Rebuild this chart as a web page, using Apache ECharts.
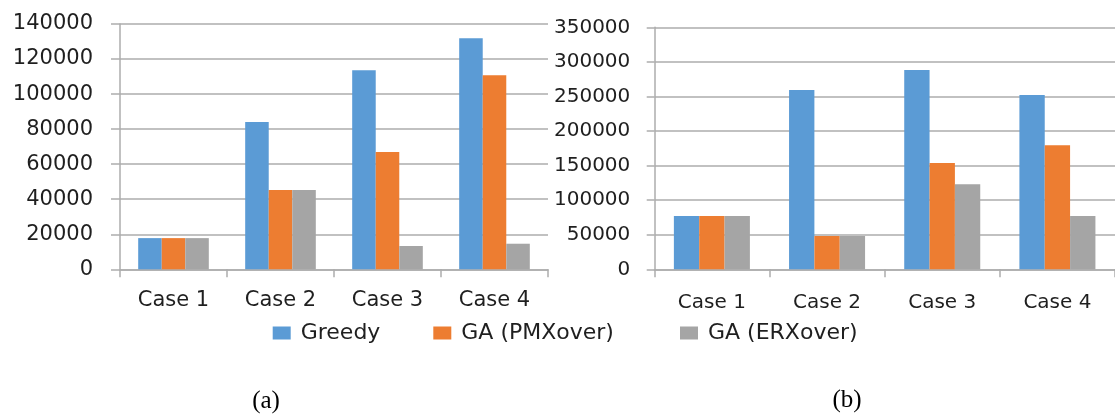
<!DOCTYPE html>
<html>
<head>
<meta charset="utf-8">
<script src="https://cdn.jsdelivr.net/npm/echarts@6/dist/echarts.min.js"></script>
<style>
  html, body { margin: 0; padding: 0; background: #fff; }
  #chart { width: 1115px; height: 414px; }
</style>
</head>
<body>
<div id="chart"></div>
<script>
const categories = ['Case 1', 'Case 2', 'Case 3', 'Case 4'];
const seriesNames = ['Greedy', 'GA (PMXover)', 'GA (ERXover)'];

// Panel (a)
const aGreedy = [17800, 84000, 113600, 131800];
const aPMX    = [17800, 45300, 67000, 110700];
const aERX    = [17800, 45300, 13300, 14600];
const aTicks  = { min: 0, max: 140000, interval: 20000 };

// Panel (b)
const bGreedy = [77000, 259300, 288200, 252100];
const bPMX    = [77000, 48200, 153700, 179300];
const bERX    = [77000, 48200, 122900, 77000];
const bTicks  = { min: 0, max: 350000, interval: 50000 };

const colors = ['#5B9BD5', '#ED7D31', '#A5A5A5'];
const gridGray = '#ADADAD';
const txt = '#1f1f1f';
const FONT = 'DejaVu Sans';

const chart = echarts.init(document.getElementById('chart'), null, { renderer: 'canvas' });

function xAxisCfg(gridIndex, fs, margin) {
  return {
    type: 'category', gridIndex, data: categories,
    axisLine: { show: true, lineStyle: { color: gridGray, width: 1.5 } },
    axisTick: { show: true, length: 8, alignWithLabel: false, lineStyle: { color: gridGray, width: 1.5 } },
    axisLabel: { fontFamily: FONT, fontSize: fs, color: txt, margin, interval: 0 },
    splitLine: { show: false }
  };
}
function yAxisCfg(gridIndex, t, fs, margin, tickLen) {
  return {
    type: 'value', gridIndex, min: t.min, max: t.max, interval: t.interval,
    axisLine: { show: true, lineStyle: { color: gridGray, width: 1.5 } },
    axisTick: { show: true, length: tickLen, lineStyle: { color: gridGray, width: 1.5 } },
    axisLabel: { fontFamily: FONT, fontSize: fs, color: txt, margin, formatter: v => String(v) },
    splitLine: { show: true, lineStyle: { color: gridGray, width: 1.5 } }
  };
}
function bar(name, data, idx, color) {
  return {
    type: 'bar', name, data, xAxisIndex: idx, yAxisIndex: idx,
    itemStyle: { color }, barGap: '0%', barCategoryGap: '34%',
    emphasis: { disabled: true }, animation: false
  };
}
function legendAt(name, left) {
  return {
    data: [name], left, top: 322, padding: 0,
    itemWidth: 18, itemHeight: 13, icon: 'rect',
    textStyle: { fontFamily: FONT, fontSize: 22, color: txt, padding: [0, 0, 0, 5] },
    selectedMode: false
  };
}

chart.setOption({
  animation: false,
  color: colors,
  grid: [
    { left: 120, top: 24, width: 428, height: 245.3, containLabel: false },
    { left: 654.3, top: 27.3, width: 465.5, height: 242, containLabel: false }
  ],
  xAxis: [xAxisCfg(0, 21, 21), xAxisCfg(1, 20, 23)],
  yAxis: [yAxisCfg(0, aTicks, 21, 27, 9), yAxisCfg(1, bTicks, 20, 24, 7.6)],
  legend: [
    legendAt(seriesNames[0], 272.7),
    legendAt(seriesNames[1], 433.3),
    legendAt(seriesNames[2], 680)
  ],
  series: [
    bar(seriesNames[0], aGreedy, 0, colors[0]),
    bar(seriesNames[1], aPMX, 0, colors[1]),
    bar(seriesNames[2], aERX, 0, colors[2]),
    bar(seriesNames[0], bGreedy, 1, colors[0]),
    bar(seriesNames[1], bPMX, 1, colors[1]),
    bar(seriesNames[2], bERX, 1, colors[2])
  ],
  graphic: [
    { type: 'text', x: 266, y: 401,
      style: { text: '(a)', font: '25px "Liberation Serif"', fill: '#000', align: 'center', verticalAlign: 'middle' } },
    { type: 'text', x: 847, y: 400,
      style: { text: '(b)', font: '25px "Liberation Serif"', fill: '#000', align: 'center', verticalAlign: 'middle' } }
  ]
});
</script>
</body>
</html>
